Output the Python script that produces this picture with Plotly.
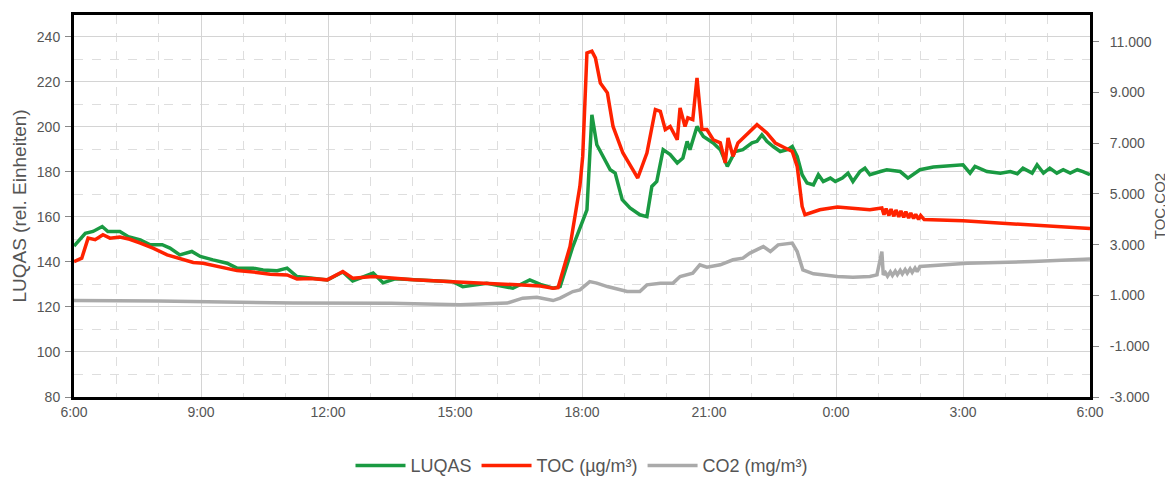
import plotly.graph_objects as go
import pandas as pd

# ---- data (clock time, value) ----
luqas_t = ["06:00", "06:16", "06:27", "06:40", "06:48", "07:05", "07:17", "07:34", "07:48", "08:05",
           "08:16", "08:30", "08:47", "08:59", "09:17", "09:37", "09:51", "10:14", "10:28", "10:48",
           "11:02", "11:16", "11:35", "11:59", "12:21", "12:35", "13:04", "13:18", "13:35", "14:01",
           "14:57", "15:11", "15:45", "16:22", "16:46", "17:01", "17:19", "17:29", "17:47", "18:07",
           "18:14", "18:21", "18:30", "18:40", "18:47", "18:57", "19:08", "19:22", "19:32", "19:39",
           "19:46", "19:55", "20:05", "20:15", "20:23", "20:29", "20:33", "20:43", "20:52", "21:06",
           "21:16", "21:26", "21:37", "21:48", "22:01", "22:08", "22:15", "22:22", "22:31", "22:41",
           "22:51", "22:58", "23:05", "23:12", "23:19", "23:28", "23:35", "23:42", "23:52", "23:59",
           "00:09", "00:17", "00:24", "00:34", "00:41", "00:48", "01:03", "01:12", "01:31", "01:42",
           "01:59", "02:18", "03:00", "03:10", "03:17", "03:34", "03:53", "04:07", "04:17", "04:25",
           "04:38", "04:45", "04:54", "05:03", "05:13", "05:22", "05:32", "05:42", "05:50", "06:00"]
luqas_v = [147, 152.7, 153.5, 155.7, 153.5, 153.5, 151.2, 149.8, 147.6, 147.6,
           146.1, 143.1, 144.6, 142.4, 140.9, 139.4, 137.2, 137.2, 136.4, 136.1,
           137.2, 133.5, 132.8, 132, 135.5, 131.5, 135, 130.7, 132.5, 132,
           131.2, 129, 130.5, 128.3, 132, 130, 128.3, 129, 146.8, 163.1,
           205.3, 192, 186.8, 180.9, 179.4, 167.6, 163.9, 160.9, 160.1, 173.5,
           175.7, 189.8, 187.6, 183.9, 186.1, 193.5, 189.8, 200.1, 195.7, 192.8,
           189.8, 182.4, 189.0, 189.8, 192.8, 193.5, 196.4, 193.5, 191.2, 189.0,
           189.8, 191.2, 186.8, 178.7, 175.0, 174.2, 178.7, 175.7, 177.2, 175.7,
           177.2, 179.4, 175.7, 180.1, 181.6, 178.7, 180.1, 180.9, 180.1, 177.2,
           180.9, 182.1, 183.1, 179.4, 182.4, 180.1, 179.4, 180.1, 179.1, 181.6,
           179.4, 183.1, 179.4, 181.6, 179.4, 180.9, 179.4, 180.9, 180.1, 178.7]

toc_t = ["06:00", "06:11", "06:20", "06:30", "06:41", "06:51", "07:05", "07:19", "07:34", "07:52",
         "08:12", "08:30", "08:49", "09:03", "09:27", "09:51", "10:19", "10:38", "11:02", "11:16",
         "11:35", "11:59", "12:21", "12:35", "13:04", "14:01", "14:57", "15:45", "16:22", "17:01",
         "17:19", "17:26", "17:43", "17:57", "18:01", "18:07", "18:14", "18:19", "18:26", "18:36",
         "18:44", "18:58", "19:12", "19:19", "19:32", "19:44", "19:51", "19:58", "20:05", "20:15",
         "20:19", "20:26", "20:30", "20:37", "20:43", "20:50", "20:57", "21:06", "21:16", "21:23",
         "21:27", "21:34", "21:41", "21:54", "22:08", "22:22", "22:34", "22:48", "22:58", "23:05",
         "23:12", "23:16", "23:37", "00:02", "00:24", "00:48", "01:05", "01:08", "01:11", "01:15",
         "01:18", "01:22", "01:25", "01:29", "01:32", "01:36", "01:39", "01:43", "01:46", "01:50",
         "01:53", "01:57", "02:00", "02:05", "03:00", "03:55", "05:00", "06:00"]
toc_v = [2335, 2468, 3258, 3196, 3391, 3258, 3302, 3213, 3062, 2867,
         2601, 2468, 2299, 2272, 2113, 1980, 1908, 1837, 1811, 1651,
         1669, 1616, 1944, 1678, 1749, 1616, 1545, 1482, 1420, 1376,
         1287, 1305, 2929, 5299, 6480, 10554, 10625, 10359, 9373, 8983,
         7660, 6613, 5956, 5628, 6613, 8326, 8255, 7536, 7660, 7136,
         8388, 7660, 7997, 7926, 9568, 7536, 7536, 7136, 7012, 6222,
         7207, 6480, 7008, 7336, 7730, 7403, 7008, 6811, 6677, 6085,
         4507, 4180, 4377, 4484, 4444, 4377, 4444, 4180, 4420, 4150,
         4400, 4120, 4370, 4100, 4330, 4080, 4300, 4050, 4250, 4030,
         4200, 4000, 4150, 3990, 3940, 3850, 3730, 3640]

co2_t = ["06:00", "08:00", "11:10", "13:30", "15:07", "16:14", "16:36", "16:56", "17:19", "17:29",
         "17:47", "17:57", "18:11", "18:21", "18:36", "19:04", "19:22", "19:32", "19:51", "20:09",
         "20:19", "20:37", "20:47", "20:57", "21:16", "21:34", "21:48", "21:58", "22:17", "22:27",
         "22:38", "22:58", "23:05", "23:13", "23:28", "00:02", "00:24", "00:48", "00:58", "01:05",
         "01:07", "01:10", "01:13", "01:17", "01:20", "01:24", "01:27", "01:31", "01:34", "01:38",
         "01:41", "01:45", "01:48", "01:52", "01:55", "01:59", "03:06", "04:39", "06:00"]
co2_v = [800, 780, 700, 690, 630, 700, 894, 933, 800, 894,
         1154, 1221, 1549, 1486, 1351, 1154, 1154, 1418, 1486, 1486,
         1746, 1880, 2207, 2116, 2207, 2405, 2472, 2669, 2929, 2732,
         2996, 3063, 2732, 2010, 1852, 1746, 1722, 1746, 1813, 2732,
         1813, 1900, 1760, 1930, 1790, 1960, 1820, 1990, 1850, 2020,
         1880, 2050, 1910, 2080, 1940, 2140, 2274, 2338, 2440]

right_ticks = [-3000, -1000, 1000, 3000, 5000, 7000, 9000, 11000]
right_labels = ["-3.000", "-1.000", "1.000", "3.000", "5.000", "7.000", "9.000", "11.000"]

start = pd.Timestamp("2013-05-14 06:00")


def to_time(clock):
    # clock strings run past midnight: roll over to the next day
    out, day, prev = [], 0, None
    for c in clock:
        t = pd.Timedelta(hours=int(c[:2]), minutes=int(c[3:]))
        if prev is not None and t < prev:
            day += 1
        prev = t
        out.append(start.normalize() + pd.Timedelta(days=day) + t)
    return out


fig = go.Figure()
fig.add_trace(go.Scatter(x=to_time(luqas_t), y=luqas_v, name="LUQAS", mode="lines",
                         line=dict(color="#1a9a42", width=3.5)))
fig.add_trace(go.Scatter(x=to_time(toc_t), y=toc_v, name="TOC (µg/m³)", mode="lines",
                         line=dict(color="#ff2200", width=3.5), yaxis="y2"))
fig.add_trace(go.Scatter(x=to_time(co2_t), y=co2_v, name="CO2 (mg/m³)", mode="lines",
                         line=dict(color="#aaaaaa", width=3.5), yaxis="y2"))

# the page body adds an 8px margin, so the figure is 8px smaller than the window
fig.update_layout(
    width=1165, height=469,
    margin=dict(l=66, r=83, t=7, b=80),
    plot_bgcolor="white", paper_bgcolor="white",
    font=dict(family="Liberation Sans, Arial, sans-serif", size=14, color="#555555"),
    legend=dict(orientation="h", x=0.5, xanchor="center", yref="container", y=0.024, yanchor="middle",
                itemwidth=50, font=dict(size=18, color="#555555")),
    xaxis=dict(type="date", range=[start, start + pd.Timedelta(hours=24)],
               tick0=start, dtick=3 * 3600 * 1000, tickformat="%-H:%M",
               showgrid=True, gridcolor="#d4d4d4", gridwidth=1,
               minor=dict(dtick=3600 * 1000, showgrid=True, gridcolor="#dedede", griddash="dash"),
               showline=True, linecolor="black", linewidth=3, mirror=True,
               ticks="", automargin=False, zeroline=False),
    yaxis=dict(range=[80, 249.6], tick0=80, dtick=20,
               showgrid=True, gridcolor="#d4d4d4", gridwidth=1,
               minor=dict(dtick=10, showgrid=True, gridcolor="#dedede", griddash="dash"),
               ticks="outside", ticklen=6, tickcolor="#888888", ticklabelstandoff=2,
               showline=True, linecolor="black", linewidth=3, mirror=True, zeroline=False,
               automargin=False,
               title=dict(text="LUQAS (rel. Einheiten)", font=dict(size=19), standoff=6)),
    yaxis2=dict(overlaying="y", side="right", range=[-3000, 12050],
                tickvals=right_ticks, ticktext=right_labels,
                showgrid=False, zeroline=False,
                ticks="outside", ticklen=6, tickcolor="#888888", ticklabelstandoff=8,
                showline=True, linecolor="black", linewidth=3, automargin=False,
                title=dict(text="TOC,CO2", font=dict(size=15), standoff=4)),
)

fig.write_html("out.html")
